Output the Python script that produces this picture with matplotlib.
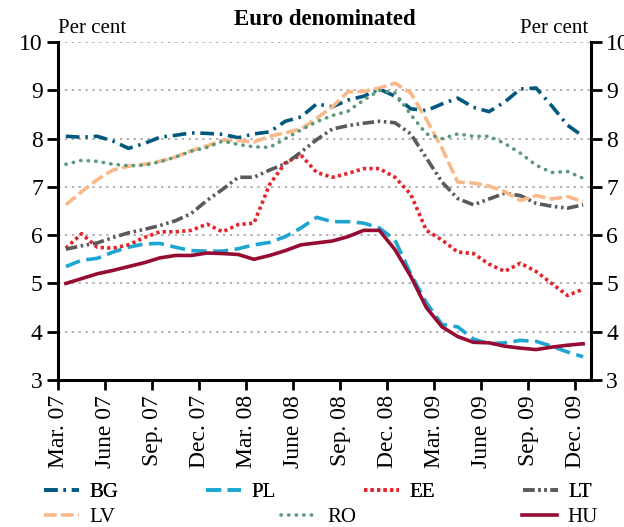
import numpy as np
import matplotlib
matplotlib.use("Agg")
import matplotlib.pyplot as plt

plt.rcParams['font.family'] = ['Liberation Serif', 'DejaVu Serif']

# monthly data, Mar. 2007 .. Dec. 2009 (34 months)
tick_labels = ['Mar. 07', 'June 07', 'Sep. 07', 'Dec. 07', 'Mar. 08', 'June 08',
               'Sep. 08', 'Dec. 08', 'Mar. 09', 'June 09', 'Sep. 09', 'Dec. 09']

bg = [8.05, 8.03, 8.05, 7.95, 7.8, 7.9, 8.03, 8.07, 8.12, 8.11, 8.09, 8.02,
      8.1, 8.14, 8.36, 8.45, 8.72, 8.66, 8.8, 8.88, 9.03, 8.88, 8.62, 8.58,
      8.72, 8.84, 8.65, 8.56, 8.76, 9.03, 9.05, 8.68, 8.28, 8.05]
pl = [5.35, 5.48, 5.52, 5.65, 5.75, 5.82, 5.83, 5.75, 5.68, 5.67, 5.67, 5.72,
      5.8, 5.85, 5.97, 6.15, 6.37, 6.28, 6.28, 6.25, 6.15, 5.9, 5.2, 4.6,
      4.15, 4.1, 3.85, 3.75, 3.77, 3.82, 3.8, 3.7, 3.58, 3.48]
ee = [5.73, 6.03, 5.75, 5.73, 5.8, 5.95, 6.07, 6.07, 6.1, 6.23, 6.07, 6.22,
      6.25, 7.05, 7.5, 7.66, 7.3, 7.2, 7.28, 7.38, 7.38, 7.2, 6.85, 6.1,
      5.9, 5.65, 5.62, 5.4, 5.25, 5.42, 5.25, 5.0, 4.75, 4.88]
lt = [5.71, 5.78, 5.84, 5.95, 6.05, 6.12, 6.2, 6.3, 6.45, 6.72, 6.95, 7.2,
      7.2, 7.35, 7.48, 7.72, 7.98, 8.2, 8.27, 8.32, 8.36, 8.33, 8.1, 7.6,
      7.1, 6.76, 6.63, 6.75, 6.87, 6.82, 6.66, 6.6, 6.56, 6.63]
lv = [6.63, 6.9, 7.15, 7.35, 7.43, 7.47, 7.53, 7.62, 7.75, 7.85, 7.97, 7.96,
      7.93, 8.05, 8.12, 8.2, 8.42, 8.66, 8.97, 8.98, 9.05, 9.15, 8.95, 8.4,
      7.8, 7.1, 7.08, 7.02, 6.9, 6.72, 6.82, 6.75, 6.8, 6.7]
ro = [7.47, 7.55, 7.53, 7.47, 7.44, 7.45, 7.52, 7.62, 7.74, 7.82, 7.95, 7.88,
      7.83, 7.82, 8.0, 8.18, 8.35, 8.48, 8.57, 8.8, 9.0, 8.95, 8.5, 8.1,
      8.0, 8.1, 8.05, 8.05, 7.9, 7.7, 7.45, 7.3, 7.32, 7.18]
hu = [5.0, 5.1, 5.2, 5.27, 5.35, 5.43, 5.53, 5.58, 5.58, 5.63, 5.62, 5.6,
      5.5, 5.58, 5.68, 5.8, 5.84, 5.88, 5.97, 6.1, 6.1, 5.7, 5.15, 4.5,
      4.1, 3.9, 3.78, 3.77, 3.7, 3.66, 3.63, 3.68, 3.72, 3.75]

x = np.arange(len(bg))

fig = plt.figure(figsize=(6.24, 5.27), dpi=100)
ax = fig.add_axes([0.093, 0.279, 0.854, 0.641])

lw = 2.6
l_bg, = ax.plot(x, bg, color='#00587f', lw=lw, dashes=(3.8, 1.6, 0.7, 1.6), label='BG')
l_pl, = ax.plot(x, pl, color='#1ea6d2', lw=lw, dashes=(4.2, 1.8), label='PL')
l_ee, = ax.plot(x, ee, color='#e4232a', lw=lw, dashes=(0.9, 0.9), label='EE')
l_lt, = ax.plot(x, lt, color='#5a5a5a', lw=lw, dashes=(3.2, 1.0, 0.7, 1.0, 0.7, 1.0), label='LT')
l_lv, = ax.plot(x, lv, color='#f9b98a', lw=lw, dashes=(3.5, 1.2), label='LV')
l_ro, = ax.plot(x, ro, color='#5b9a7a', lw=lw, dashes=(0.1, 2.0), dash_capstyle='round', label='RO')
l_hu, = ax.plot(x, hu, color='#960c32', lw=lw, label='HU')

ax.set_xlim(-0.5, 33.5)
ax.set_ylim(3, 10)
ax.set_yticks(range(3, 11))
ax.set_xticks(np.arange(len(tick_labels)) * 3 - 0.5)
ax.set_xticklabels(tick_labels, rotation=90, fontsize=17)
ax.tick_params(axis='y', labelsize=17, length=8, width=2, direction='out', pad=3)
ax.tick_params(axis='x', length=7, width=2, direction='out', pad=4)
for y in range(4, 11):
    ax.axhline(y, color='#9a9a9a', lw=1.1, ls=(0, (1.5, 3)), zorder=0)

for s in ['left', 'right', 'bottom']:
    ax.spines[s].set_linewidth(2.2)
ax.spines['top'].set_visible(False)

ax2 = ax.twinx()
ax2.set_ylim(3, 10)
ax2.set_yticks(range(3, 11))
ax2.tick_params(axis='y', labelsize=17, length=8, width=2, direction='out', pad=3)
for s in ax2.spines.values():
    s.set_visible(False)

ax.text(0.0, 1.012, 'Per cent', transform=ax.transAxes, fontsize=15, ha='left', va='bottom')
ax.text(0.995, 1.012, 'Per cent', transform=ax.transAxes, fontsize=15, ha='right', va='bottom')
ax.text(0.5, 1.035, 'Euro denominated', transform=ax.transAxes, fontsize=16.5,
        fontweight='bold', ha='center', va='bottom')

leg1 = fig.legend(handles=[l_bg, l_pl, l_ee, l_lt], ncol=4, loc='center left',
                  bbox_to_anchor=(0.07, 0.066), frameon=False, fontsize=15,
                  handlelength=1.7, handletextpad=0.5, columnspacing=4.2,
                  borderpad=0, borderaxespad=0)
fig.add_artist(leg1)
fig.legend(handles=[l_lv, l_ro, l_hu], ncol=3, loc='center left',
           bbox_to_anchor=(0.07, 0.018), frameon=False, fontsize=15,
           handlelength=1.7, handletextpad=0.5, columnspacing=7.95,
           borderpad=0, borderaxespad=0)

fig.savefig('out.png', dpi=100)
